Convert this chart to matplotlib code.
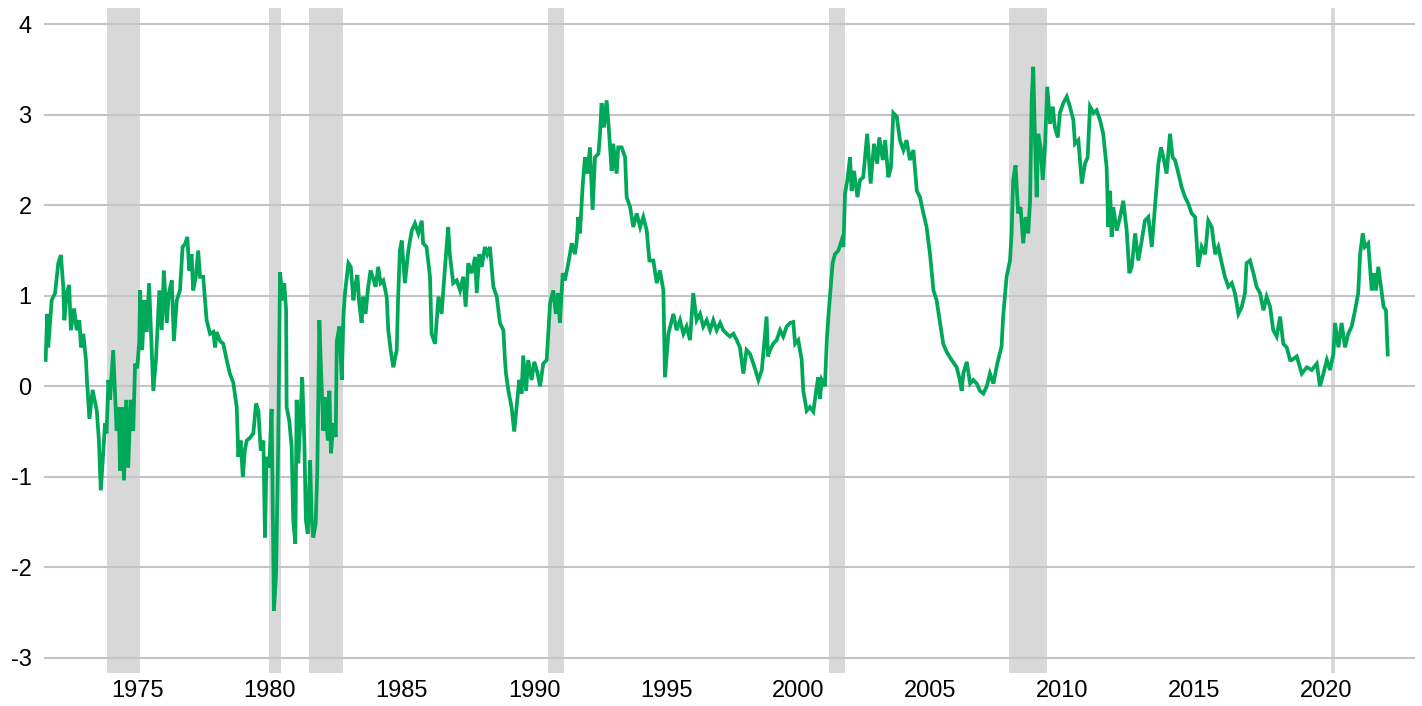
import matplotlib
matplotlib.use("Agg")
import matplotlib.pyplot as plt

plt.rcParams['font.family'] = ['Liberation Sans', 'DejaVu Sans']
plt.rcParams['axes.unicode_minus'] = False

# Observation dates (decimal years) and spread values (percentage points)
years = [
    1971.50, 1971.56, 1971.60, 1971.73, 1971.86, 1971.98, 1972.08, 1972.17, 1972.21, 1972.30,
    1972.39, 1972.46, 1972.58, 1972.68, 1972.78, 1972.84, 1972.93, 1973.03, 1973.06, 1973.16,
    1973.28, 1973.44, 1973.52, 1973.59, 1973.69, 1973.75, 1973.81, 1973.88, 1973.94, 1974.06,
    1974.13, 1974.19, 1974.27, 1974.32, 1974.38, 1974.47, 1974.55, 1974.63, 1974.72, 1974.82,
    1974.89, 1974.97, 1975.05, 1975.08, 1975.16, 1975.24, 1975.33, 1975.42, 1975.52, 1975.58,
    1975.68, 1975.81, 1975.90, 1975.98, 1976.09, 1976.17, 1976.28, 1976.36, 1976.47, 1976.59,
    1976.69, 1976.78, 1976.87, 1976.94, 1977.03, 1977.09, 1977.19, 1977.28, 1977.35, 1977.47,
    1977.60, 1977.73, 1977.85, 1977.92, 1977.98, 1978.11, 1978.23, 1978.36, 1978.48, 1978.61,
    1978.74, 1978.80, 1978.89, 1978.97, 1979.05, 1979.12, 1979.24, 1979.37, 1979.47, 1979.56,
    1979.65, 1979.75, 1979.81, 1979.87, 1979.97, 1980.06, 1980.15, 1980.23, 1980.31, 1980.38,
    1980.48, 1980.54, 1980.61, 1980.63, 1980.73, 1980.82, 1980.88, 1980.96, 1981.01, 1981.07,
    1981.14, 1981.22, 1981.30, 1981.36, 1981.43, 1981.52, 1981.58, 1981.64, 1981.73, 1981.79,
    1981.87, 1981.92, 1982.02, 1982.08, 1982.19, 1982.25, 1982.31, 1982.40, 1982.49, 1982.53,
    1982.63, 1982.72, 1982.78, 1982.84, 1982.97, 1983.06, 1983.16, 1983.22, 1983.31, 1983.38,
    1983.47, 1983.53, 1983.62, 1983.72, 1983.81, 1983.91, 1984.00, 1984.10, 1984.19, 1984.29,
    1984.42, 1984.48, 1984.57, 1984.67, 1984.80, 1984.85, 1984.92, 1984.99, 1985.11, 1985.24,
    1985.37, 1985.49, 1985.62, 1985.75, 1985.80, 1985.93, 1986.06, 1986.12, 1986.25, 1986.38,
    1986.50, 1986.63, 1986.75, 1986.81, 1986.94, 1987.07, 1987.20, 1987.32, 1987.41, 1987.51,
    1987.64, 1987.77, 1987.83, 1987.93, 1988.02, 1988.14, 1988.23, 1988.33, 1988.46, 1988.59,
    1988.71, 1988.84, 1988.90, 1988.94, 1989.03, 1989.15, 1989.25, 1989.34, 1989.44, 1989.53,
    1989.59, 1989.70, 1989.78, 1989.91, 1990.01, 1990.13, 1990.23, 1990.35, 1990.48, 1990.61,
    1990.73, 1990.83, 1990.92, 1990.98, 1991.09, 1991.17, 1991.30, 1991.43, 1991.55, 1991.62,
    1991.68, 1991.74, 1991.84, 1991.93, 1992.02, 1992.12, 1992.22, 1992.31, 1992.44, 1992.50,
    1992.56, 1992.65, 1992.75, 1992.84, 1992.94, 1993.00, 1993.13, 1993.19, 1993.32, 1993.45,
    1993.51, 1993.64, 1993.76, 1993.89, 1994.02, 1994.14, 1994.27, 1994.37, 1994.52, 1994.65,
    1994.77, 1994.90, 1994.96, 1995.09, 1995.28, 1995.40, 1995.53, 1995.66, 1995.78, 1995.91,
    1996.03, 1996.16, 1996.29, 1996.41, 1996.54, 1996.67, 1996.79, 1996.92, 1997.05, 1997.17,
    1997.30, 1997.42, 1997.55, 1997.68, 1997.80, 1997.93, 1998.05, 1998.18, 1998.31, 1998.50,
    1998.63, 1998.81, 1998.86, 1998.94, 1999.06, 1999.19, 1999.32, 1999.44, 1999.57, 1999.70,
    1999.82, 1999.89, 2000.01, 2000.14, 2000.20, 2000.33, 2000.45, 2000.58, 2000.71, 2000.77,
    2000.83, 2000.90, 2001.02, 2001.09, 2001.15, 2001.24, 2001.31, 2001.40, 2001.53, 2001.65,
    2001.72, 2001.78, 2001.87, 2001.97, 2002.03, 2002.12, 2002.25, 2002.35, 2002.47, 2002.62,
    2002.75, 2002.88, 2003.00, 2003.08, 2003.21, 2003.30, 2003.42, 2003.52, 2003.61, 2003.74,
    2003.86, 2003.99, 2004.11, 2004.24, 2004.37, 2004.50, 2004.62, 2004.75, 2004.87, 2005.00,
    2005.13, 2005.25, 2005.38, 2005.50, 2005.63, 2005.82, 2006.01, 2006.13, 2006.20, 2006.26,
    2006.39, 2006.52, 2006.64, 2006.77, 2006.89, 2007.02, 2007.15, 2007.27, 2007.40, 2007.52,
    2007.58, 2007.71, 2007.77, 2007.90, 2008.03, 2008.09, 2008.15, 2008.24, 2008.34, 2008.43,
    2008.53, 2008.62, 2008.72, 2008.79, 2008.85, 2008.91, 2008.98, 2009.04, 2009.10, 2009.19,
    2009.27, 2009.36, 2009.44, 2009.55, 2009.65, 2009.73, 2009.84, 2009.92, 2010.05, 2010.18,
    2010.30, 2010.43, 2010.49, 2010.62, 2010.75, 2010.87, 2010.97, 2011.06, 2011.19, 2011.31,
    2011.44, 2011.56, 2011.69, 2011.75, 2011.82, 2011.88, 2011.94, 2012.07, 2012.20, 2012.32,
    2012.45, 2012.55, 2012.64, 2012.77, 2012.89, 2013.02, 2013.14, 2013.27, 2013.40, 2013.52,
    2013.65, 2013.75, 2013.84, 2013.96, 2014.09, 2014.19, 2014.28, 2014.41, 2014.53, 2014.66,
    2014.78, 2014.91, 2015.04, 2015.16, 2015.29, 2015.42, 2015.54, 2015.67, 2015.80, 2015.92,
    2016.05, 2016.17, 2016.30, 2016.43, 2016.55, 2016.68, 2016.81, 2016.93, 2016.99, 2017.12,
    2017.25, 2017.37, 2017.50, 2017.63, 2017.75, 2017.88, 2018.00, 2018.13, 2018.26, 2018.38,
    2018.51, 2018.64, 2018.70, 2018.89, 2019.08, 2019.27, 2019.46, 2019.65, 2019.77, 2019.90,
    2020.03, 2020.15, 2020.28, 2020.34, 2020.47, 2020.59, 2020.72, 2020.84, 2020.97, 2021.10,
    2021.22, 2021.29, 2021.39, 2021.47, 2021.60, 2021.73, 2021.82, 2021.89, 2021.98, 2022.08,
    2022.18, 2022.27, 2022.34,
]
spread = [
    0.27, 0.80, 0.43, 0.95, 1.03, 1.36, 1.45, 1.10, 0.73, 1.03,
    1.12, 0.62, 0.86, 0.62, 0.73, 0.43, 0.58, 0.29, 0.10, -0.36,
    -0.04, -0.27, -0.60, -1.15, -0.71, -0.41, -0.52, 0.07, -0.15, 0.40,
    -0.08, -0.49, -0.23, -0.93, -0.23, -1.04, -0.15, -0.90, -0.15, -0.49,
    0.25, 0.20, 0.50, 1.06, 0.40, 0.95, 0.60, 1.14, 0.40, -0.05,
    0.29, 1.06, 0.62, 1.28, 0.70, 1.03, 1.17, 0.50, 0.95, 1.06,
    1.54, 1.57, 1.65, 1.28, 1.46, 1.06, 1.21, 1.50, 1.21, 1.21,
    0.73, 0.58, 0.60, 0.43, 0.60, 0.50, 0.47, 0.29, 0.14, 0.04,
    -0.23, -0.78, -0.60, -1.00, -0.70, -0.60, -0.57, -0.52, -0.19, -0.27,
    -0.71, -0.60, -1.67, -0.78, -0.90, -0.25, -2.48, -2.07, -0.67, 1.26,
    0.95, 1.14, 0.84, -0.23, -0.38, -0.67, -1.48, -1.74, -0.15, -0.85,
    -0.44, 0.10, -0.60, -1.48, -1.63, -0.82, -1.48, -1.67, -1.52, -0.96,
    0.73, 0.29, -0.49, -0.12, -0.60, -0.05, -0.74, -0.41, -0.56, 0.50,
    0.66, 0.07, 0.77, 1.03, 1.36, 1.32, 0.95, 1.10, 1.23, 0.92,
    0.70, 0.99, 0.80, 1.10, 1.28, 1.19, 1.10, 1.32, 1.14, 1.17,
    0.99, 0.62, 0.40, 0.21, 0.40, 0.95, 1.50, 1.61, 1.14, 1.50,
    1.72, 1.80, 1.69, 1.83, 1.58, 1.54, 1.21, 0.58, 0.47, 0.99,
    0.80, 1.32, 1.76, 1.46, 1.14, 1.17, 1.06, 1.21, 0.88, 1.36,
    1.25, 1.43, 1.03, 1.46, 1.32, 1.54, 1.46, 1.54, 1.10, 0.99,
    0.70, 0.62, 0.29, 0.14, -0.05, -0.23, -0.50, -0.23, 0.07, -0.08,
    0.34, -0.05, 0.29, 0.07, 0.27, 0.15, 0.00, 0.25, 0.29, 0.92,
    1.06, 0.80, 1.03, 0.70, 1.25, 1.17, 1.36, 1.58, 1.46, 1.61,
    1.87, 1.69, 2.20, 2.53, 2.35, 2.64, 1.95, 2.53, 2.57, 2.79,
    3.13, 2.86, 3.16, 2.82, 2.38, 2.68, 2.35, 2.64, 2.64, 2.53,
    2.09, 1.98, 1.76, 1.91, 1.76, 1.87, 1.72, 1.39, 1.39, 1.14,
    1.28, 1.06, 0.10, 0.58, 0.80, 0.62, 0.73, 0.58, 0.66, 0.51,
    1.03, 0.73, 0.80, 0.66, 0.73, 0.62, 0.73, 0.62, 0.70, 0.62,
    0.58, 0.55, 0.58, 0.51, 0.43, 0.14, 0.40, 0.36, 0.25, 0.07,
    0.18, 0.77, 0.33, 0.40, 0.47, 0.51, 0.62, 0.55, 0.66, 0.70,
    0.71, 0.47, 0.51, 0.29, -0.05, -0.27, -0.23, -0.28, 0.00, 0.10,
    -0.14, 0.07, 0.00, 0.50, 0.77, 1.10, 1.36, 1.46, 1.50, 1.61,
    1.54, 2.13, 2.28, 2.53, 2.16, 2.38, 2.09, 2.28, 2.31, 2.79,
    2.24, 2.68, 2.46, 2.75, 2.50, 2.72, 2.31, 2.42, 3.02, 2.98,
    2.72, 2.61, 2.72, 2.50, 2.61, 2.16, 2.09, 1.91, 1.76, 1.46,
    1.06, 0.95, 0.70, 0.47, 0.38, 0.29, 0.21, 0.07, -0.05, 0.14,
    0.27, 0.03, 0.07, 0.03, -0.05, -0.08, 0.00, 0.14, 0.03, 0.21,
    0.29, 0.44, 0.77, 1.21, 1.39, 1.69, 2.28, 2.44, 1.91, 1.98,
    1.58, 1.87, 1.69, 2.05, 3.16, 3.53, 2.68, 2.09, 2.79, 2.64,
    2.28, 2.68, 3.31, 2.90, 3.09, 2.86, 2.75, 3.02, 3.13, 3.20,
    3.09, 2.94, 2.68, 2.72, 2.24, 2.46, 2.53, 3.09, 3.02, 3.05,
    2.94, 2.79, 2.42, 1.76, 2.16, 1.65, 1.98, 1.72, 1.87, 2.05,
    1.72, 1.25, 1.32, 1.69, 1.39, 1.61, 1.83, 1.87, 1.54, 1.98,
    2.46, 2.64, 2.53, 2.35, 2.79, 2.53, 2.50, 2.35, 2.20, 2.09,
    2.02, 1.91, 1.87, 1.32, 1.54, 1.46, 1.83, 1.76, 1.46, 1.54,
    1.36, 1.21, 1.10, 1.14, 1.03, 0.80, 0.88, 1.03, 1.36, 1.39,
    1.25, 1.10, 1.03, 0.84, 0.99, 0.88, 0.62, 0.55, 0.77, 0.47,
    0.43, 0.29, 0.29, 0.33, 0.14, 0.21, 0.18, 0.25, 0.00, 0.14,
    0.29, 0.18, 0.36, 0.70, 0.43, 0.70, 0.43, 0.58, 0.66, 0.84,
    1.03, 1.46, 1.69, 1.54, 1.58, 1.06, 1.25, 1.06, 1.32, 1.10,
    0.88, 0.84, 0.33,
]

# Recession periods (decimal years)
rec_start = [1973.83, 1979.96, 1981.48, 1990.53, 2001.17, 2007.99, 2020.17]
rec_end = [1975.06, 1980.42, 1982.77, 1991.13, 2001.78, 2009.42, 2020.33]

y_ticks = [-3, -2, -1, 0, 1, 2, 3, 4]
x_ticks = [1975, 1980, 1985, 1990, 1995, 2000, 2005, 2010, 2015, 2020]

fig = plt.figure(figsize=(14.22, 7.06), dpi=100)
ax = fig.add_axes([44 / 1422, 1 - 673 / 706, (1415 - 44) / 1422, (673 - 8) / 706])

for s, e in zip(rec_start, rec_end):
    ax.axvspan(s, e, color='#d8d8d8', lw=0, zorder=1)

ax.plot(years, spread, color='#00a859', lw=2.7, zorder=3,
        solid_joinstyle='miter', solid_capstyle='butt')

ax.set_xlim(1971.44, 2023.37)
ax.set_ylim(-3.168, 4.18)
ax.set_yticks(y_ticks)
ax.set_yticklabels([str(t) for t in y_ticks])
ax.set_xticks(x_ticks)
ax.set_xticklabels([str(t) for t in x_ticks])
ax.grid(axis='y', color='#c4c3ca', lw=1.5, zorder=2)
ax.set_axisbelow(False)
ax.tick_params(axis='both', length=0, labelsize=17, colors='black')
ax.tick_params(axis='y', pad=9)
ax.tick_params(axis='x', pad=5)
for sp in ax.spines.values():
    sp.set_visible(False)

fig.savefig('out.png', dpi=100)
